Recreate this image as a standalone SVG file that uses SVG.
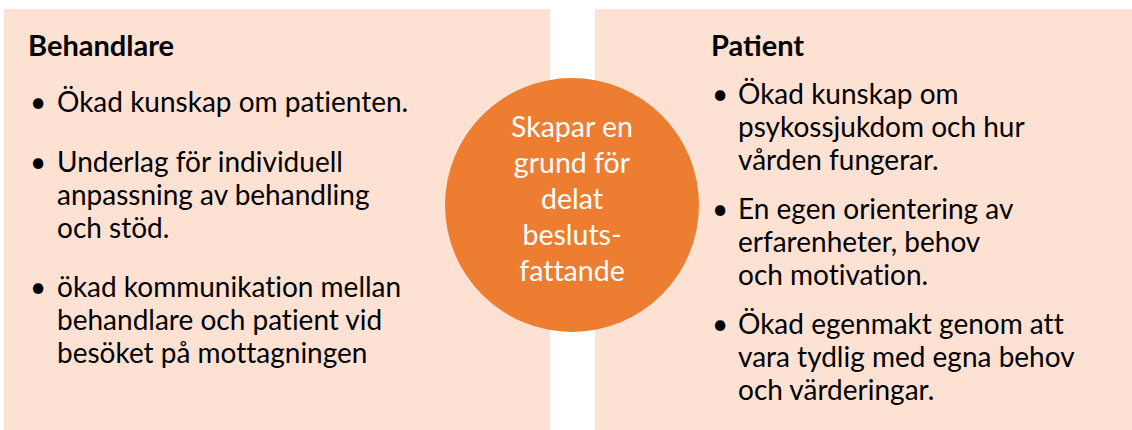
<svg xmlns="http://www.w3.org/2000/svg" width="1132" height="430" viewBox="0 0 1132 430">
<style>
.panel{fill:#fde2d4}
.t{font-family:Lato,"Liberation Sans",sans-serif;font-size:28px;fill:#000;font-variant-ligatures:none}
.h{font-family:Lato,"Liberation Sans",sans-serif;font-size:29px;font-weight:bold;fill:#000}
.c{font-family:Lato,"Liberation Sans",sans-serif;font-size:28.5px;fill:#fff;text-anchor:middle;font-variant-ligatures:none}
</style>
<g id="behandlare">
<rect class="panel" x="4" y="9" width="546" height="421"/>
<text class="h" x="28" y="56">Behandlare</text>
<text class="t" x="30" y="112">•</text>
<text class="t" x="57" y="112">Ökad kunskap om patienten.</text>
<text class="t" x="30" y="172">•</text>
<text class="t" x="57" y="172">Underlag för individuell</text>
<text class="t" x="57" y="205">anpassning av behandling</text>
<text class="t" x="57" y="238">och stöd.</text>
<text class="t" x="30" y="297">•</text>
<text class="t" x="57" y="297">ökad kommunikation mellan</text>
<text class="t" x="57" y="330">behandlare och patient vid</text>
<text class="t" x="57" y="363">besöket på mottagningen</text>
</g>
<g id="patient">
<rect class="panel" x="595" y="9" width="537" height="421"/>
<text class="h" x="711" y="56">Patient</text>
<text class="t" x="712" y="104">•</text>
<text class="t" x="738" y="104">Ökad kunskap om</text>
<text class="t" x="738" y="137">psykossjukdom och hur</text>
<text class="t" x="738" y="170">vården fungerar.</text>
<text class="t" x="712" y="219">•</text>
<text class="t" x="738" y="219">En egen orientering av</text>
<text class="t" x="738" y="252">erfarenheter, behov</text>
<text class="t" x="738" y="285">och motivation.</text>
<text class="t" x="712" y="334">•</text>
<text class="t" x="738" y="334">Ökad egenmakt genom att</text>
<text class="t" x="738" y="367">vara tydlig med egna behov</text>
<text class="t" x="738" y="400">och värderingar.</text>
</g>
<g id="center">
<circle cx="572" cy="205" r="127" fill="#ed7d31"/>
<text class="c" x="572" y="137">Skapar en</text>
<text class="c" x="572" y="173">grund för</text>
<text class="c" x="572" y="209">delat</text>
<text class="c" x="572" y="245">besluts-</text>
<text class="c" x="572" y="281">fattande</text>
</g>
<g id="connectors"/>
</svg>
